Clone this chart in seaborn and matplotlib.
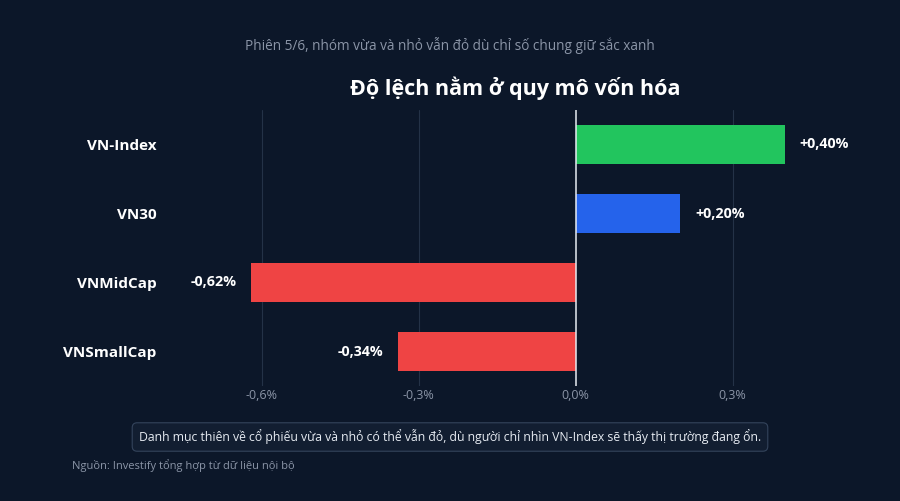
import matplotlib
matplotlib.use("Agg")
import matplotlib.pyplot as plt
import pandas as pd
import seaborn as sns

# data
categories = ["VN-Index", "VN30", "VNMidCap", "VNSmallCap"]
changes = [0.40, 0.20, -0.62, -0.34]
bar_colors = ["#22c55e", "#2563eb", "#ef4444", "#ef4444"]
tick_vals = [-0.6, -0.3, 0.0, 0.3]

df = pd.DataFrame({"index": categories, "change": changes})

bg = "#0c1729"
sns.set_theme(style="dark")
plt.rcParams["font.family"] = ["Open Sans", "DejaVu Sans"]

fig = plt.figure(figsize=(9, 5.01), dpi=100, facecolor=bg)
ax = fig.add_axes([165 / 900, 1 - 386 / 501, 700 / 900, 276 / 501])
ax.set_facecolor(bg)

sns.barplot(data=df, x="change", y="index", hue="index", palette=bar_colors,
            legend=False, width=0.565, ax=ax, saturation=1, linewidth=0,
            edgecolor="none")

ax.set_xlim(-0.785, 0.553)
ax.set_xticks(tick_vals)
ax.set_xticklabels([f"{v:.1f}%".replace(".", ",") for v in tick_vals],
                   color="#8b95a7", fontsize=9)
for v in tick_vals:
    if v != 0:
        ax.axvline(v, color="#243247", lw=0.8, zorder=0)
ax.axvline(0, color="#e8edf3", lw=1.1, zorder=3)

ax.set_yticks(range(len(categories)))
ax.set_yticklabels(categories, color="white", fontsize=11, fontweight="bold")
ax.tick_params(axis="x", length=0, pad=2)
ax.tick_params(axis="y", length=0, pad=6)
ax.set_xlabel("")
ax.set_ylabel("")
for s in ax.spines.values():
    s.set_visible(False)

for i, v in enumerate(changes):
    lbl = f"{v:+.2f}%".replace(".", ",")
    off = 0.028 if v > 0 else -0.028
    ax.text(v + off, i, lbl, color="white", fontsize=10.3, fontweight="bold",
            va="center", ha="left" if v > 0 else "right")

ax.set_title("Độ lệch nằm ở quy mô vốn hóa", color="white", fontsize=15.5,
             fontweight="bold", pad=11)

fig.text(0.5, 1 - 45 / 501, "Phiên 5/6, nhóm vừa và nhỏ vẫn đỏ dù chỉ số chung giữ sắc xanh",
         color="#8b95a7", fontsize=9.8, ha="center", va="center")

fig.text(0.5, 1 - 437 / 501,
         "Danh mục thiên về cổ phiếu vừa và nhỏ có thể vẫn đỏ, dù người chỉ nhìn VN-Index sẽ thấy thị trường đang ổn.",
         color="#e6ebf2", fontsize=8.8, ha="center", va="center",
         bbox=dict(boxstyle="round,pad=0.55,rounding_size=0.4", fc="#121e31",
                   ec="#34445c", lw=0.8))

fig.text(72 / 900, 1 - 466 / 501, "Nguồn: Investify tổng hợp từ dữ liệu nội bộ",
         color="#8b95a7", fontsize=8, ha="left", va="center")

fig.savefig("out.png", dpi=100, facecolor=bg)
